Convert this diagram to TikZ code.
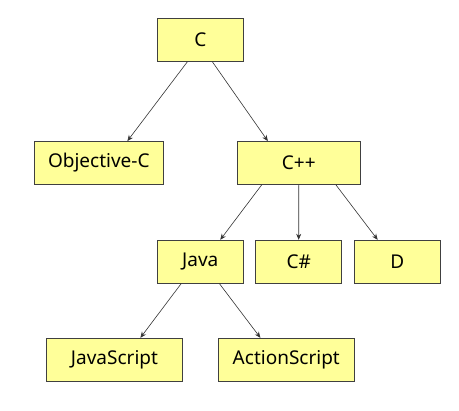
\documentclass[tikz,border=0pt]{standalone}
\usepackage{fontspec}
\setmainfont{Noto Sans}
\usetikzlibrary{calc,arrows.meta}
\definecolor{boxfill}{HTML}{FFFF99}
\definecolor{boxline}{HTML}{404040}
\begin{document}
\begin{tikzpicture}[x=1pt,y=-1pt,
  box/.style={draw=boxline,line width=0.8pt,fill=boxfill,rectangle,inner sep=0pt,
    minimum height=43pt,font=\fontsize{19}{22}\selectfont},
  link/.style={draw=black!80,line width=0.6pt,-{Stealth[length=6pt,width=5pt]}}]
\useasboundingbox (0,0) rectangle (459,411);
\node[box,minimum width=86pt] (c) at (200.3,40) {C};
\node[box,minimum width=129pt] (objc) at (98.8,163) {Objective-C};
\node[box,minimum width=123pt] (cpp) at (298.8,163) {C++};
\node[box,minimum width=86pt] (java) at (200.3,261.7) {Java};
\node[box,minimum width=86pt] (cs) at (298.7,261.7) {C\#};
\node[box,minimum width=86pt] (d) at (397.2,261.7) {D};
\node[box,minimum width=135.5pt] (js) at (114.5,359.7) {JavaScript};
\node[box,minimum width=135.5pt] (as) at (286.3,359.7) {ActionScript};
\draw[link] ($(c.south west)!0.35!(c.south east)$) -- ($(objc.north west)!0.72!(objc.north east)$);
\draw[link] ($(c.south west)!0.64!(c.south east)$) -- ($(cpp.north west)!0.25!(cpp.north east)$);
\draw[link] ($(cpp.south west)!0.2!(cpp.south east)$) -- ($(java.north west)!0.73!(java.north east)$);
\draw[link] (cpp.south) -- (cs.north);
\draw[link] ($(cpp.south west)!0.8!(cpp.south east)$) -- ($(d.north west)!0.275!(d.north east)$);
\draw[link] ($(java.south west)!0.28!(java.south east)$) -- ($(js.north west)!0.69!(js.north east)$);
\draw[link] ($(java.south west)!0.72!(java.south east)$) -- ($(as.north west)!0.31!(as.north east)$);
\end{tikzpicture}
\end{document}
